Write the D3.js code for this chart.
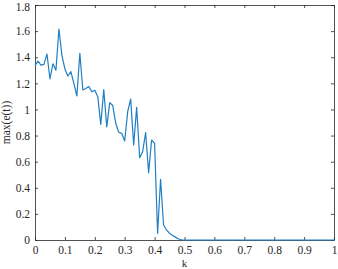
<!DOCTYPE html>
<html>
<head>
<meta charset="utf-8">
<script src="https://cdn.jsdelivr.net/npm/d3@7"></script>
<style>
  body { margin: 0; background: #fff; }
  svg { display: block; }
  svg text { font-family: "Liberation Serif", "Times New Roman", serif !important; fill: #262626; }
</style>
</head>
<body>
<script>
// values, k goes 0..1 in steps of 0.01
var kValues = d3.range(0, 101).map(function(i){ return i / 100; });
var headValues = [
  1.335, 1.37, 1.34, 1.345, 1.425, 1.235, 1.35, 1.30, 1.616, 1.415,
  1.31, 1.256, 1.29, 1.20, 1.103, 1.43, 1.149, 1.16, 1.175, 1.136,
  1.147, 1.098, 0.886, 1.152, 0.866, 1.052, 1.03, 0.894, 0.825, 0.817,
  0.758, 0.983, 1.08, 0.728, 1.016, 0.63, 0.676, 0.822, 0.516, 0.766,
  0.74, 0.051, 0.465, 0.115, 0.077, 0.051, 0.035, 0.022, 0.008, 0.002
];
// after k = 0.5 the curve sits at zero
var tailValues = [0,0,0,0,0,0,0,0,0,0, 0,0,0,0,0,0,0,0,0,0,
                  0,0,0,0,0,0,0,0,0,0, 0,0,0,0,0,0,0,0,0,0,
                  0,0,0,0,0,0,0,0,0,0, 0];
var maxE = headValues.concat(tailValues);

var xTicks = [0, 0.1, 0.2, 0.3, 0.4, 0.5, 0.6, 0.7, 0.8, 0.9, 1];
var yTicks = [0, 0.2, 0.4, 0.6, 0.8, 1, 1.2, 1.4, 1.6, 1.8];
var xLabel = "k", yLabel = "max(e(t))";

var W = 338, H = 269;
var m = {left: 35, right: 4, top: 5, bottom: 29};

var svg = d3.select('body').append('svg').attr('width', W).attr('height', H);

var x = d3.scaleLinear().domain([0, 1]).range([m.left, W - m.right]);
var y = d3.scaleLinear().domain([0, 1.8]).range([H - m.bottom, m.top]);

var fmt = function(d){ return d3.format('')(+d.toFixed(1)); };

// axes, MATLAB style: ticks inside, box on
var axisColor = '#262626';
function styleAxis(g){
  g.attr('font-family', null);
  g.select('.domain').attr('stroke', axisColor).attr('stroke-width', 0.8);
  g.selectAll('.tick line').attr('stroke', axisColor).attr('stroke-width', 0.8);
  g.selectAll('.tick text').attr('font-size', '11.5px').attr('fill', axisColor);
}

svg.append('g').attr('transform', 'translate(0,' + y(0) + ')')
  .call(d3.axisBottom(x).tickValues(xTicks).tickFormat(fmt).tickSizeInner(-3).tickSizeOuter(0).tickPadding(6))
  .call(styleAxis);
svg.append('g').attr('transform', 'translate(0,' + y(1.8) + ')')
  .call(d3.axisTop(x).tickValues(xTicks).tickFormat('').tickSizeInner(-3).tickSizeOuter(0))
  .call(styleAxis);
var yAxisG = svg.append('g').attr('transform', 'translate(' + x(0) + ',0)')
  .call(d3.axisLeft(y).tickValues(yTicks).tickFormat(fmt).tickSizeInner(-3).tickSizeOuter(0).tickPadding(5))
  .call(styleAxis);
// top label sits right at the edge, nudge it down a little
yAxisG.selectAll('.tick text').filter(function(d){ return d === 1.8; }).attr('dy', '0.5em');
svg.append('g').attr('transform', 'translate(' + x(1) + ',0)')
  .call(d3.axisRight(y).tickValues(yTicks).tickFormat('').tickSizeInner(-3).tickSizeOuter(0))
  .call(styleAxis);

// the curve
var line = d3.line()
  .x(function(d, i){ return x(kValues[i]); })
  .y(function(d){ return y(d); });

svg.append('path')
  .datum(maxE)
  .attr('fill', 'none')
  .attr('stroke', '#1f7fc4')
  .attr('stroke-width', 1.2)
  .attr('stroke-linejoin', 'round')
  .attr('d', line);

// axis titles
svg.append('text')
  .attr('x', (x(0) + x(1)) / 2).attr('y', 266.5)
  .attr('text-anchor', 'middle').attr('font-size', '11px')
  .text(xLabel);
svg.append('text')
  .attr('transform', 'translate(10,' + (y(0) + y(1.8)) / 2 + ') rotate(-90)')
  .attr('text-anchor', 'middle').attr('font-size', '11.5px')
  .text(yLabel);
</script>
</body>
</html>
